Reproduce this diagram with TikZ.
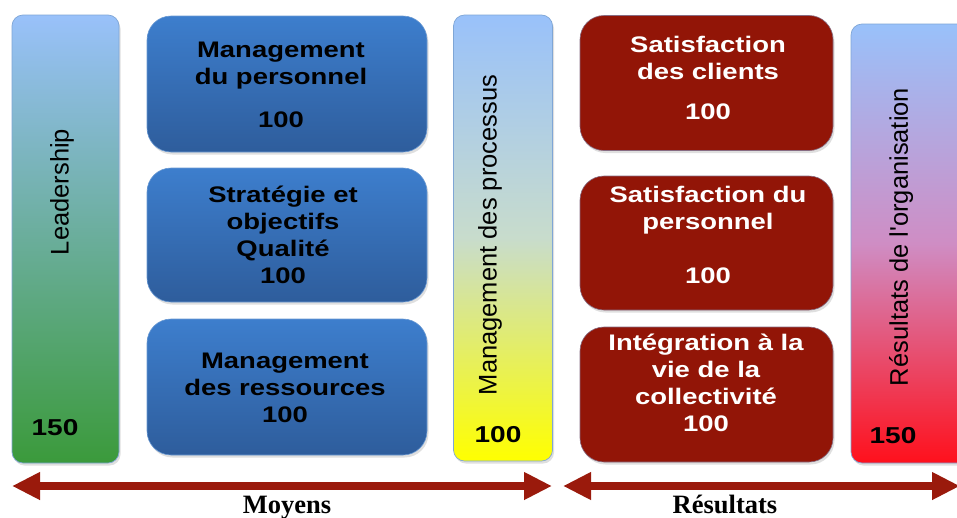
\documentclass[tikz,border=0pt]{standalone}
\usepackage{fontspec}
\setmainfont{Liberation Sans}
\newfontfamily\bx[FakeStretch=1.22]{Liberation Sans}
\newfontfamily\rt[Ligatures=TeXOff]{Liberation Sans}
\newfontfamily\sr{Liberation Serif}
\usetikzlibrary{arrows.meta,shadows}
\definecolor{barblue}{HTML}{99C1FA}
\definecolor{bargreen}{HTML}{3B9A3B}
\definecolor{boxtop}{HTML}{3D7ECD}
\definecolor{boxbot}{HTML}{2E5D9C}
\definecolor{boxred}{HTML}{921507}
\definecolor{arrowred}{HTML}{9A1A0C}
\definecolor{edgeblue}{HTML}{7FA6D6}
\definecolor{procmid}{HTML}{C8DCCC}
\definecolor{resmid}{HTML}{CF8DC4}
\definecolor{resbot}{HTML}{FF101C}
\tikzset{
  shade/.style={drop shadow={opacity=0.25, shadow xshift=1.5pt, shadow yshift=-2.5pt}},
  bar/.style={rectangle, rounded corners=11pt, draw=edgeblue, line width=0.7pt, minimum width=#1, inner sep=0pt, shade},
  bluebox/.style={rectangle, rounded corners=24pt, draw=edgeblue!70!boxtop, line width=0.6pt, top color=boxtop, bottom color=boxbot, minimum width=280, inner sep=0pt, shade},
  redbox/.style={rectangle, rounded corners=24pt, draw=edgeblue!60!boxred, line width=0.6pt, fill=boxred, minimum width=253, inner sep=0pt, shade},
  boxtext/.style={align=center, font=\bx\bfseries\fontsize{22.5}{27}\selectfont, inner sep=0pt},
  bartext/.style={rotate=90, font=\rt\fontsize{25.5}{30}\selectfont, inner sep=0pt},
  barnum/.style={font=\bx\bfseries\fontsize{23}{27}\selectfont, inner sep=0pt},
  bigarrow/.style={draw=arrowred, line width=8pt, {Triangle[length=28pt,width=26pt]}-{Triangle[length=28pt,width=26pt]}},
  axislabel/.style={font=\sr\bfseries\fontsize{26.5}{30}\selectfont, anchor=base, inner sep=0pt}
}
\begin{document}
\begin{tikzpicture}[x=1pt,y=-1pt]
\clip (0,0) rectangle (957,517);
\fill[white] (0,0) rectangle (957,517);
% left bar
\node[bar=107, minimum height=448, top color=barblue, bottom color=bargreen] (lead) at (65.5,239) {};
\node[bartext] (leadt) at (62,192) {Leadership};
\node[barnum] (leadn) at (55,428) {150};
% blue boxes
\node[bluebox, minimum height=136] (b1) at (287,84) {};
\node[bluebox, minimum height=134] (b2) at (287,235) {};
\node[bluebox, minimum height=136] (b3) at (287,387) {};
\node[boxtext] (b1t) at (281,85) {Management\\du personnel\\[16pt]100};
\node[boxtext] (b2t) at (283,235) {Stratégie et\\objectifs\\Qualité\\100};
\node[boxtext] (b3t) at (285,388) {Management\\des ressources\\100};
% process bar
\node[bar=99, minimum height=446, top color=barblue, bottom color=yellow, middle color=procmid] (proc) at (503,238) {};
\node[bartext] (proct) at (490,235) {Management des processus};
\node[barnum] (procn) at (498,435) {100};
% red boxes
\node[redbox, minimum height=135] (r1) at (706.5,83) {};
\node[redbox, minimum height=134] (r2) at (706.5,243) {};
\node[redbox, minimum height=135] (r3) at (706.5,394.5) {};
\node[boxtext, text=white] (r1t) at (708,77.5) {Satisfaction\\des clients\\[13pt]100};
\node[boxtext, text=white] (r2t) at (708,235) {Satisfaction du\\personnel\\[27pt]100};
\node[boxtext, text=white] (r3t) at (706,383) {Intégration à la\\vie de la\\collectivité\\100};
% right bar
\node[bar=124, minimum height=439, top color=barblue, bottom color=resbot, middle color=resmid] (res) at (913,243.5) {};
\node[bartext] (rest) at (901,237) {Résultats de l'organisation};
\node[barnum] (resn) at (893,436) {150};
% arrows
\coordinate (m1) at (12,486);
\coordinate (m2) at (552,486);
\coordinate (s1) at (563,486);
\coordinate (s2) at (960,486);
\draw[bigarrow] (m1) -- (m2);
\draw[bigarrow] (s1) -- (s2);
\node[axislabel] (moy) at (287,513) {Moyens};
\node[axislabel] (resl) at (725,513) {Résultats};
\end{tikzpicture}
\end{document}
